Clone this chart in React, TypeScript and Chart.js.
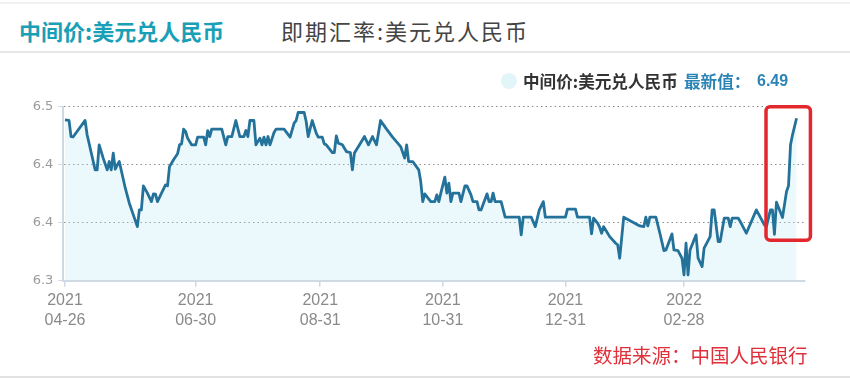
import React, { useEffect, useRef } from "react";
import { Chart, registerables } from "chart.js";

Chart.register(...registerables);

// ---------- data ----------
const startDate = "2021-04-26";
const dates = [
  "2021-04-26","2021-04-28","2021-04-29","2021-04-30","2021-05-06","2021-05-07","2021-05-11","2021-05-12","2021-05-13","2021-05-15",
  "2021-05-17","2021-05-18","2021-05-19","2021-05-20","2021-05-21","2021-05-22","2021-05-23","2021-05-26","2021-05-28","2021-06-01",
  "2021-06-02","2021-06-03","2021-06-04","2021-06-06","2021-06-08","2021-06-09","2021-06-10","2021-06-11","2021-06-15","2021-06-16",
  "2021-06-17","2021-06-19","2021-06-21","2021-06-22","2021-06-23","2021-06-24","2021-06-25","2021-06-26","2021-06-28","2021-06-30",
  "2021-07-01","2021-07-04","2021-07-05","2021-07-06","2021-07-07","2021-07-08","2021-07-13","2021-07-15","2021-07-16","2021-07-18",
  "2021-07-20","2021-07-22","2021-07-24","2021-07-25","2021-07-26","2021-07-27","2021-07-29","2021-07-30","2021-08-01","2021-08-02",
  "2021-08-03","2021-08-04","2021-08-05","2021-08-06","2021-08-08","2021-08-09","2021-08-13","2021-08-16","2021-08-18","2021-08-19",
  "2021-08-20","2021-08-23","2021-08-24","2021-08-25","2021-08-27","2021-08-29","2021-08-30","2021-09-01","2021-09-02","2021-09-03",
  "2021-09-06","2021-09-07","2021-09-08","2021-09-09","2021-09-11","2021-09-13","2021-09-15","2021-09-16","2021-09-17","2021-09-20",
  "2021-09-22","2021-09-24","2021-09-26","2021-09-28","2021-09-30","2021-10-03","2021-10-06","2021-10-10","2021-10-12","2021-10-13",
  "2021-10-14","2021-10-16","2021-10-19","2021-10-20","2021-10-21","2021-10-22","2021-10-25","2021-10-27","2021-10-28","2021-10-29",
  "2021-10-30","2021-11-01","2021-11-02","2021-11-03","2021-11-04","2021-11-05","2021-11-08","2021-11-09","2021-11-11","2021-11-12",
  "2021-11-14","2021-11-15","2021-11-17","2021-11-18","2021-11-19","2021-11-22","2021-11-23","2021-11-24","2021-11-25","2021-11-26",
  "2021-11-29","2021-12-01","2021-12-08","2021-12-09","2021-12-10","2021-12-14","2021-12-16","2021-12-18","2021-12-20","2021-12-21",
  "2021-12-28","2021-12-31","2022-01-01","2022-01-05","2022-01-06","2022-01-12","2022-01-13","2022-01-14","2022-01-16","2022-01-17",
  "2022-01-18","2022-01-19","2022-01-21","2022-01-22","2022-01-25","2022-01-26","2022-01-27","2022-01-29","2022-02-06","2022-02-08",
  "2022-02-09","2022-02-10","2022-02-11","2022-02-14","2022-02-16","2022-02-18","2022-02-19","2022-02-22","2022-02-23","2022-02-25",
  "2022-02-27","2022-02-28","2022-03-01","2022-03-02","2022-03-03","2022-03-06","2022-03-07","2022-03-09","2022-03-10","2022-03-13",
  "2022-03-14","2022-03-15","2022-03-17","2022-03-18","2022-03-20","2022-03-22","2022-03-23","2022-03-24","2022-03-27","2022-03-28",
  "2022-03-31","2022-04-05","2022-04-09","2022-04-10","2022-04-12","2022-04-13","2022-04-14","2022-04-15","2022-04-18","2022-04-20",
  "2022-04-21","2022-04-22","2022-04-23","2022-04-25",
];
const midRate = [
  6.4847,6.4840,6.4655,6.4650,6.4840,6.4675,6.4273,6.4273,6.4560,6.4407,
  6.4273,6.4368,6.4273,6.4465,6.4280,6.4330,6.4368,6.4062,6.3890,6.3621,
  6.3813,6.3813,6.4089,6.4005,6.3908,6.3997,6.3993,6.3908,6.4100,6.4089,
  6.4310,6.4388,6.4457,6.4560,6.4571,6.4740,6.4713,6.4637,6.4560,6.4560,
  6.4648,6.4648,6.4560,6.4724,6.4655,6.4740,6.4740,6.4560,6.4655,6.4655,
  6.4839,6.4655,6.4655,6.4724,6.4655,6.4839,6.4839,6.4560,6.4637,6.4560,
  6.4648,6.4560,6.4655,6.4560,6.4701,6.4740,6.4740,6.4648,6.4809,6.4839,
  6.4931,6.4931,6.4828,6.4655,6.4839,6.4694,6.4648,6.4648,6.4571,6.4560,
  6.4471,6.4471,6.4663,6.4579,6.4560,6.4483,6.4471,6.4273,6.4465,6.4579,
  6.4655,6.4560,6.4655,6.4560,6.4839,6.4740,6.4648,6.4540,6.4407,6.4560,
  6.4368,6.4368,6.4273,6.4138,6.3908,6.3997,6.3908,6.3908,6.3985,6.3908,
  6.4005,6.4189,6.4005,6.4120,6.3908,6.4005,6.4005,6.3908,6.4089,6.4089,
  6.3985,6.3908,6.3908,6.3813,6.3813,6.3997,6.3908,6.3908,6.4005,6.3908,
  6.3908,6.3729,6.3729,6.3526,6.3729,6.3729,6.3621,6.3813,6.3908,6.3729,
  6.3729,6.3729,6.3821,6.3821,6.3729,6.3729,6.3537,6.3718,6.3660,6.3614,
  6.3545,6.3621,6.3545,6.3506,6.3430,6.3411,6.3258,6.3729,6.3629,6.3621,
  6.3729,6.3629,6.3729,6.3729,6.3545,6.3345,6.3353,6.3537,6.3353,6.3345,
  6.3258,6.3066,6.3430,6.3066,6.3353,6.3526,6.3258,6.3162,6.3373,6.3506,
  6.3813,6.3813,6.3449,6.3449,6.3718,6.3718,6.3621,6.3718,6.3718,6.3679,
  6.3545,6.3813,6.3640,6.3621,6.3813,6.3813,6.3533,6.3901,6.3725,6.4023,
  6.4090,6.4560,6.4675,6.4865,
];
const xTickDates = ["2021-04-26", "2021-06-30", "2021-08-31", "2021-10-31", "2021-12-31", "2022-02-28"];
const yTicks = [6.3, 6.3667, 6.4333, 6.5];
const seriesName = "中间价:美元兑人民币";
const otherTab = "即期汇率:美元兑人民币";
const latestLabel = "最新值：";
const latestValue = "6.49";
const sourceText = "数据来源：中国人民银行";

// x-range (days after start) and highlighted region
const xMinDay = -0.85;
const xMaxDay = 368.2;
const highlight = { fromDay: 348.8, toDay: 370.9, top: 6.4997, bottom: 6.3465 };

const dayOf = (d: string) =>
  Math.round((Date.parse(d + "T00:00:00Z") - Date.parse(startDate + "T00:00:00Z")) / 86400000);

const CJK = '"Noto Sans CJK SC", "Noto Sans", sans-serif';

const highlightPlugin = {
  id: "highlightBox",
  afterDatasetsDraw(chart: any) {
    const { ctx, scales } = chart;
    const l = scales.x.getPixelForValue(highlight.fromDay);
    const r = scales.x.getPixelForValue(highlight.toDay);
    const t = scales.y.getPixelForValue(highlight.top);
    const b = scales.y.getPixelForValue(highlight.bottom);
    ctx.save();
    ctx.strokeStyle = "#e3282d";
    ctx.lineWidth = 3.5;
    ctx.beginPath();
    if (ctx.roundRect) ctx.roundRect(l, t, r - l, b - t, 4);
    else ctx.rect(l, t, r - l, b - t);
    ctx.stroke();
    ctx.restore();
  },
};

export default function App() {
  const canvasRef = useRef<HTMLCanvasElement | null>(null);

  useEffect(() => {
    if (!canvasRef.current) return;
    const points = dates.map((d, i) => ({ x: dayOf(d), y: midRate[i] }));
    const chart = new Chart(canvasRef.current, {
      type: "line",
      data: {
        datasets: [
          {
            label: seriesName,
            data: points,
            borderColor: "#24729a",
            borderWidth: 2.8,
            backgroundColor: "rgba(190, 235, 245, 0.3)",
            fill: "start",
            pointRadius: 0,
            tension: 0,
            borderJoinStyle: "round",
          },
        ],
      },
      options: {
        animation: false,
        responsive: false,
        maintainAspectRatio: false,
        layout: { padding: { top: 106.5, right: 45, bottom: 0, left: 0 } },
        plugins: { legend: { display: false }, tooltip: { enabled: false } },
        scales: {
          x: {
            type: "linear",
            min: xMinDay,
            max: xMaxDay,
            afterBuildTicks: (scale: any) => {
              scale.ticks = xTickDates.map((d) => ({ value: dayOf(d) }));
            },
            afterFit: (scale: any) => {
              scale.height = 97.3;
            },
            ticks: {
              autoSkip: false,
              maxRotation: 0,
              minRotation: 0,
              color: "#8a8a8a",
              padding: 4,
              font: { family: '"Liberation Sans", Arial, sans-serif', size: 16, lineHeight: 1.25 },
              callback: (v: any) => {
                const d = xTickDates.find((s) => dayOf(s) === v);
                return d ? [d.slice(0, 4), d.slice(5)] : "";
              },
            },
            grid: { drawOnChartArea: false, drawTicks: true, tickLength: 6, color: "#cfd9e4", lineWidth: 1.5 },
            border: { display: true, color: "#cfd9e4", width: 2 },
          },
          y: {
            min: 6.3,
            max: 6.5,
            afterBuildTicks: (scale: any) => {
              scale.ticks = yTicks.map((v) => ({ value: v }));
            },
            afterFit: (scale: any) => {
              scale.width = 63.3;
            },
            ticks: {
              color: "#9a9a9a",
              padding: 5,
              font: { family: '"DejaVu Sans", sans-serif', size: 13 },
              callback: (v: any) => Number(v).toFixed(1),
            },
            grid: {
              color: (c: any) => (c.tick && c.tick.value === 6.3 ? "rgba(0,0,0,0)" : "#8c8c8c"),
              tickColor: "#cfd9e4",
              tickLength: 5,
              lineWidth: 1,
            },
            border: { display: true, color: "#cfd9e4", width: 2, dash: [1.5, 3] },
          },
        },
      },
      plugins: [highlightPlugin],
    } as any);
    return () => chart.destroy();
  }, []);

  return (
    <div
      style={{
        position: "fixed",
        left: 0,
        top: 0,
        width: 850,
        height: 378,
        background: "#fff",
        overflow: "hidden",
        fontFamily: CJK,
      }}
    >
      <div style={{ position: "absolute", left: 0, top: 2, width: 850, height: 2, background: "#f1f1f1" }} />
      <div
        style={{
          position: "absolute",
          left: 19,
          top: 18,
          fontSize: 22,
          lineHeight: "24px",
          fontWeight: 700,
          color: "#1aa0b6",
          whiteSpace: "nowrap",
        }}
      >
        {seriesName}
      </div>
      <div
        style={{
          position: "absolute",
          left: 281,
          top: 18,
          fontSize: 22,
          lineHeight: "24px",
          letterSpacing: 2,
          color: "#444",
          whiteSpace: "nowrap",
        }}
      >
        {otherTab}
      </div>
      <div style={{ position: "absolute", left: 0, top: 51, width: 850, height: 2, background: "#e6e6e6" }} />

      <canvas ref={canvasRef} width={850} height={378} style={{ position: "absolute", left: 0, top: 0 }} />

      {/* legend */}
      <div
        style={{
          position: "absolute",
          left: 501,
          top: 73,
          width: 16,
          height: 16,
          borderRadius: 8,
          background: "#e2f5f9",
        }}
      />
      <div
        style={{
          position: "absolute",
          left: 523,
          top: 71,
          fontSize: 16.6,
          lineHeight: "20px",
          fontWeight: 700,
          color: "#333",
          whiteSpace: "nowrap",
        }}
      >
        {seriesName}
      </div>
      <div
        style={{
          position: "absolute",
          left: 684,
          top: 71,
          fontSize: 16.6,
          lineHeight: "20px",
          fontWeight: 700,
          color: "#2b84b6",
          whiteSpace: "nowrap",
        }}
      >
        {latestLabel}
      </div>
      <div
        style={{
          position: "absolute",
          left: 757,
          top: 71,
          fontSize: 16,
          lineHeight: "20px",
          fontWeight: 700,
          fontFamily: '"Liberation Sans", Arial, sans-serif',
          color: "#2b84b6",
          whiteSpace: "nowrap",
        }}
      >
        {latestValue}
      </div>

      <div
        style={{
          position: "absolute",
          left: 593,
          top: 343,
          fontSize: 19.5,
          lineHeight: "24px",
          color: "#e0303a",
          whiteSpace: "nowrap",
        }}
      >
        {sourceText}
      </div>
      <div style={{ position: "absolute", left: 0, top: 376, width: 850, height: 2, background: "#e2e2e2" }} />
    </div>
  );
}
